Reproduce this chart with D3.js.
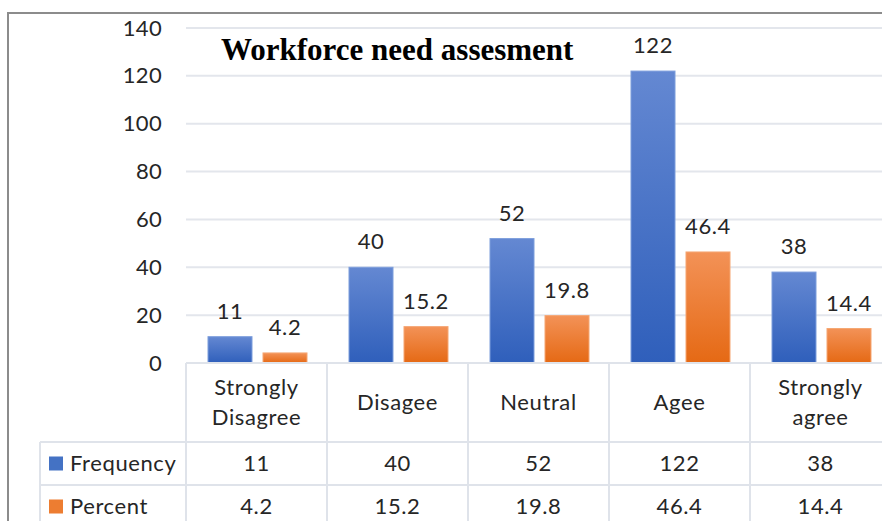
<!DOCTYPE html>
<html>
<head>
<meta charset="utf-8">
<script src="https://cdn.jsdelivr.net/npm/d3@7"></script>
<style>
  body { margin: 0; background: #fff; }
</style>
</head>
<body>
<div id="chart"></div>
<script>
// Données
const categories = ["Strongly Disagree", "Disagee", "Neutral", "Agee", "Strongly agree"];
const frequency = [11, 40, 52, 122, 38];
const percent = [4.2, 15.2, 19.8, 46.4, 14.4];
const seriesNames = ["Frequency", "Percent"];
const yTicks = [0, 20, 40, 60, 80, 100, 120, 140];
const title = "Workforce need assesment";

const width = 882, height = 521;
const fontSize = 22;
const font = "Lato, 'Open Sans', sans-serif";
const textColor = "#262626";

const svg = d3.select("#chart")
    .append("svg")
    .attr("width", width)
    .attr("height", height)
    .style("font-family", font)
    .style("letter-spacing", "0.6px");

// Dégradés des barres
const defs = svg.append("defs");
const grads = [
    { id: "gBlue", top: "#6488d2", bottom: "#2f5fbb" },
    { id: "gOrange", top: "#f39257", bottom: "#e56914" }
];
grads.forEach(g => {
    const lg = defs.append("linearGradient")
        .attr("id", g.id)
        .attr("x1", 0).attr("y1", 0).attr("x2", 0).attr("y2", 1);
    lg.append("stop").attr("offset", "0%").attr("stop-color", g.top);
    lg.append("stop").attr("offset", "100%").attr("stop-color", g.bottom);
});
const fills = ["url(#gBlue)", "url(#gOrange)"];
const strokes = ["#7d9edc", "#f5a673"];
const legendColors = ["#4472c4", "#ed7d31"];

// Cadre extérieur
svg.append("rect")
    .attr("x", 8).attr("y", 13)
    .attr("width", width + 20).attr("height", height + 20)
    .attr("fill", "none")
    .attr("stroke", "#8c8c8c")
    .attr("stroke-width", 2);

// Echelles
const x = d3.scaleBand()
    .domain(categories)
    .range([186, 891]);

const y = d3.scaleLinear()
    .domain([0, 140])
    .range([363, 28]);

// Grille
svg.append("g")
    .selectAll("line")
    .data(yTicks)
    .enter()
    .append("line")
    .attr("x1", 186).attr("x2", width)
    .attr("y1", d => y(d)).attr("y2", d => y(d))
    .attr("stroke", "#e3e6ec")
    .attr("stroke-width", 2);

// Axe Y
const yAxis = svg.append("g")
    .attr("transform", "translate(162,0)")
    .call(d3.axisLeft(y).tickValues(yTicks).tickSize(0).tickPadding(0));
yAxis.select(".domain").remove();
yAxis.selectAll("text")
    .style("font-family", font)
    .style("font-size", fontSize + "px")
    .style("letter-spacing", "0.3px")
    .attr("fill", textColor);

// Titre
svg.append("text")
    .attr("x", 221).attr("y", 60)
    .style("font-family", "'Liberation Serif', 'Times New Roman', serif")
    .style("font-weight", "bold")
    .style("font-size", "31px")
    .style("letter-spacing", "0px")
    .attr("fill", "#000")
    .text(title);

// Barres
const barW = 44, gap = 11, offset = 22;
const series = [frequency, percent];

series.forEach((vals, s) => {
    const g = svg.append("g");
    g.selectAll("rect")
        .data(vals)
        .enter()
        .append("rect")
        .attr("x", (d, i) => x(categories[i]) + offset + s * (barW + gap))
        .attr("y", d => y(d))
        .attr("width", barW)
        .attr("height", d => y(0) - y(d))
        .attr("fill", fills[s])
        .attr("stroke", strokes[s])
        .attr("stroke-width", 1);

    g.selectAll("text")
        .data(vals)
        .enter()
        .append("text")
        .attr("x", (d, i) => x(categories[i]) + offset + s * (barW + gap) + barW / 2)
        .attr("y", d => y(d) - 18)
        .attr("text-anchor", "middle")
        .style("font-size", fontSize + "px")
        .attr("fill", textColor)
        .text(d => d);
});

// Tableau de données
const tableLeft = 40;
const rowTop = [363, 442, 485, 528];
const lineColor = "#dfe3ea";
const tbl = svg.append("g");

// lignes horizontales
tbl.append("line").attr("x1", 186).attr("x2", width).attr("y1", rowTop[0]).attr("y2", rowTop[0])
    .attr("stroke", lineColor).attr("stroke-width", 2);
[rowTop[1], rowTop[2]].forEach(yy => {
    tbl.append("line").attr("x1", tableLeft).attr("x2", width).attr("y1", yy).attr("y2", yy)
        .attr("stroke", lineColor).attr("stroke-width", 2);
});
// lignes verticales
tbl.append("line").attr("x1", tableLeft).attr("x2", tableLeft).attr("y1", rowTop[1]).attr("y2", height)
    .attr("stroke", lineColor).attr("stroke-width", 2);
tbl.selectAll("line.v")
    .data(categories)
    .enter()
    .append("line")
    .attr("class", "v")
    .attr("x1", d => x(d)).attr("x2", d => x(d))
    .attr("y1", rowTop[0]).attr("y2", height)
    .attr("stroke", lineColor).attr("stroke-width", 2);

// étiquettes de catégories
categories.forEach(c => {
    const words = c.split(" ");
    const t = tbl.append("text")
        .attr("x", x(c) + x.bandwidth() / 2)
        .attr("text-anchor", "middle")
        .style("font-size", fontSize + "px")
        .attr("fill", textColor);
    if (words.length === 1) {
        t.attr("y", 410).text(c);
    } else {
        words.forEach((w, k) => {
            t.append("tspan")
                .attr("x", x(c) + x.bandwidth() / 2)
                .attr("y", 395 + k * 30)
                .text(w);
        });
    }
});

// lignes de valeurs
series.forEach((vals, s) => {
    const cy = (rowTop[s + 1] + rowTop[s + 2]) / 2;
    tbl.append("rect")
        .attr("x", 49).attr("y", cy - 7)
        .attr("width", 14).attr("height", 14)
        .attr("fill", legendColors[s]);
    tbl.append("text")
        .attr("x", 70).attr("y", cy + 7)
        .style("font-size", fontSize + "px")
        .attr("fill", textColor)
        .text(seriesNames[s]);
    tbl.selectAll("text.v" + s)
        .data(vals)
        .enter()
        .append("text")
        .attr("class", "v" + s)
        .attr("x", (d, i) => x(categories[i]) + x.bandwidth() / 2)
        .attr("y", cy + 7)
        .attr("text-anchor", "middle")
        .style("font-size", fontSize + "px")
        .attr("fill", textColor)
        .text(d => d);
});
</script>
</body>
</html>
